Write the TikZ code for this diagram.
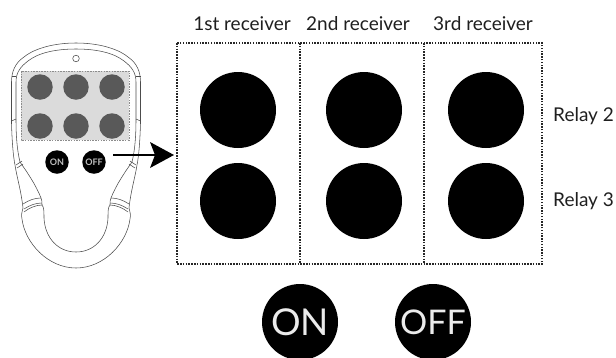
\documentclass[tikz,border=0pt]{standalone}
\usepackage{fontspec}
\setmainfont{Lato}
\usetikzlibrary{arrows.meta}
\tikzset{
  lab/.style={font=\fontsize{19}{21}\selectfont,inner sep=0pt,text=black!88},
  bigdot/.style={circle,fill=black,minimum size=76pt,inner sep=0pt},
  bigbtn/.style={circle,fill=black,minimum size=76pt,inner sep=0pt,text=white!92!black},
  smallbtn/.style={circle,fill=black,minimum size=23.5pt,inner sep=0pt,text=white!75!black,font=\bfseries\fontsize{9}{10}\selectfont},
  graykey/.style={circle,fill=black!65,minimum size=25.5pt,inner sep=0pt},
  dotline/.style={line width=1.6pt,black!85,dash pattern=on 1.5pt off 1.3pt},
  body/.style={line width=0.55pt,black!70},
}
\newcommand{\halfremote}{%
  % outer shell
  \draw[body] (76,43) .. controls (55,43) and (35,48) .. (24,57)
     .. controls (15,63) and (11.5,72) .. (11.5,82)
     -- (11.5,123) .. controls (12,140) and (13,155) .. (15,165)
     .. controls (17,178) and (21,190) .. (23,208);
  % inner shell
  \draw[body] (76,49) .. controls (55,49) and (38,53) .. (28,61)
     .. controls (20,67) and (16,73) .. (16,82)
     -- (16,120) .. controls (16,135) and (17,150) .. (20,162)
     .. controls (27,172) and (36,185) .. (41,198);
  \draw[body] (11.5,76) -- (16,76);
  \draw[body] (11.5,121) -- (16,119);
  \draw[body] (16,165) -- (22,161);
  \draw[body] (17,168) -- (23,164);
  % grip band
  \draw[body] (23,204) .. controls (29,200) and (35,198) .. (41,198);
  \draw[body] (24,209) .. controls (30,205) and (36,203) .. (42,203);
  \draw[body] (41,198) .. controls (42,200) and (42,202) .. (42,205);
  % handle
  \draw[body] (23,208) .. controls (22,212) and (21,215) .. (22,219)
     .. controls (25,243) and (48,268) .. (76,268);
  \draw[body] (24,212) .. controls (29,208) and (36,205) .. (42,205)
     .. controls (44,207) and (44,212) .. (44,218)
     .. controls (45,238) and (58,252) .. (76,252);
}
\begin{document}
\begin{tikzpicture}[x=1pt,y=-1pt]
\useasboundingbox (0,0) rectangle (616,357);
% remote
\halfremote
\begin{scope}[shift={(152,0)},xscale=-1]
  \halfremote
\end{scope}
\draw[body] (76,58.5) circle[radius=3.3];
\path[fill=black!14] (21,71) rectangle (129,140);
\draw[line width=0.9pt,black!45,dash pattern=on 1.5pt off 1.2pt] (21,71) rectangle (129,140);
\node[graykey] (k1) at (40,87) {};
\node[graykey] (k2) at (76,87) {};
\node[graykey] (k3) at (112,87) {};
\node[graykey] (k4) at (40,126) {};
\node[graykey] (k5) at (76,126) {};
\node[graykey] (k6) at (112,126) {};
\node[smallbtn] (son) at (57,162) {ON};
\node[smallbtn] (soff) at (94,162) {OFF};
\coordinate (arrowstart) at (113,155);
\coordinate (arrowend) at (174,155);
\draw[line width=1.5pt,black] (arrowstart) -- (155,155);
\fill[black] (arrowend) -- (150,142) -- (155,155) -- (150,168) -- cycle;
% box
\draw[dotline] (177,43) rectangle (542,264);
\draw[dotline] (300,43) -- (300,264);
\draw[dotline] (424,43) -- (424,264);
% circles
\node[bigdot] (a1) at (238,110) {};
\node[bigdot] (a2) at (364,110) {};
\node[bigdot] (a3) at (486,110) {};
\node[bigdot] (b1) at (238,201) {};
\node[bigdot] (b2) at (364,201) {};
\node[bigdot] (b3) at (486,201) {};
% labels
\node[lab] (t1) at (242,24) {1st receiver};
\node[lab] (t2) at (358,24) {2nd receiver};
\node[lab] (t3) at (483,24) {3rd receiver};
\node[lab,anchor=west] (r2) at (553,116) {Relay 2};
\node[lab,anchor=west] (r3) at (553,201) {Relay 3};
\node[bigbtn,font=\fontsize{37}{37}\selectfont] (on) at (300,322) {ON};
\node[bigbtn,font=\fontsize{34}{37}\selectfont] (off) at (433,322) {OFF};
\end{tikzpicture}
\end{document}
